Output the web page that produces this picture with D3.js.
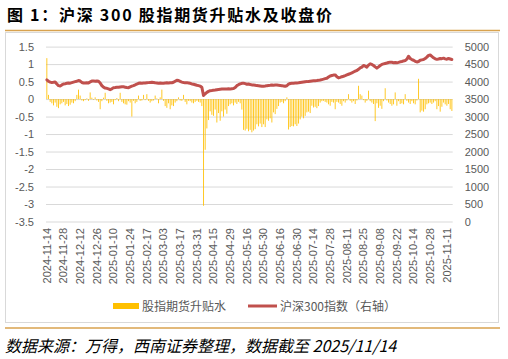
<!DOCTYPE html>
<html><head><meta charset="utf-8">
<script src="https://cdn.jsdelivr.net/npm/d3@7"></script>
<style>body{margin:0;background:#fff}svg{display:block}</style>
</head><body>
<svg id="c" width="508" height="359"></svg>
<script>
const titleText = "图 1：沪深 300 股指期货升贴水及收盘价";
const sourceText = "数据来源：万得，西南证券整理，数据截至 2025/11/14";
const seriesNames = ["股指期货升贴水", "沪深300指数（右轴）"];
const tickLabels = ["2024-11-14","2024-11-28","2024-12-12","2024-12-26","2025-01-10","2025-01-24","2025-02-17","2025-03-03","2025-03-17","2025-03-31","2025-04-15","2025-04-29","2025-05-16","2025-05-30","2025-06-16","2025-06-30","2025-07-14","2025-07-28","2025-08-11","2025-08-25","2025-09-08","2025-09-22","2025-10-14","2025-10-28","2025-11-11"];
const leftTicks = [-3.5,-3,-2.5,-2,-1.5,-1,-0.5,0,0.5,1,1.5];
const rightTicks = [0,500,1000,1500,2000,2500,3000,3500,4000,4500,5000];
const basis = [
 1.17,0.12,-0.08,-0.12,-0.18,-0.10,-0.22,-0.26,-0.15,-0.12,
 -0.08,-0.18,-0.14,-0.20,-0.16,-0.10,-0.12,-0.06,0.12,0.27,
 0.10,-0.04,-0.06,-0.03,0.02,-0.05,0.19,0.04,-0.02,0.05,
 -0.04,-0.08,-0.29,-0.06,0.04,0.18,-0.05,-0.12,-0.10,-0.08,
 -0.15,-0.03,0.03,-0.06,0.18,-0.08,-0.12,-0.15,-0.16,-0.06,
 -0.10,-0.50,-0.05,-0.12,-0.08,0.10,-0.05,-0.04,0.12,-0.03,
 0.14,-0.05,-0.10,-0.06,-0.04,0.10,0.02,-0.12,0.05,0.27,
 -0.05,-0.20,-0.25,-0.12,-0.29,-0.18,-0.20,-0.10,-0.06,0.05,
 -0.04,-0.05,0.12,-0.08,-0.15,-0.05,-0.06,-0.10,-0.12,-0.08,
 -0.05,-0.08,-0.10,-0.20,-3.05,-1.45,-0.84,-0.60,-0.35,-0.45,
 -0.48,-0.30,-0.67,-0.40,-0.62,-0.35,-0.50,-0.30,-0.42,-0.20,
 -0.15,-0.12,-0.18,-0.10,-0.14,-0.08,-0.12,-0.30,-0.88,-0.90,
 -0.85,-0.92,-0.88,-0.95,-0.90,-0.86,-0.72,-0.78,-0.70,-0.80,
 -0.72,-0.80,-0.58,-0.62,-0.55,-0.67,-0.38,-0.43,-0.28,-0.20,
 -0.10,-0.08,-0.12,-0.06,0.05,-0.87,-0.80,-0.77,-0.78,-0.72,
 -0.77,-0.70,-0.58,-0.50,-0.55,-0.48,-0.38,-0.36,-0.40,-0.19,
 -0.24,-0.22,-0.26,-0.20,-0.10,-0.06,-0.05,-0.08,-0.10,-0.15,
 -0.19,-0.08,-0.10,-0.29,-0.08,-0.10,-0.14,-0.19,-0.06,-0.10,
 -0.04,0.14,-0.05,-0.10,-0.06,-0.14,-0.04,0.38,0.14,0.10,
 -0.03,-0.10,-0.05,0.24,-0.06,-0.10,-0.14,-0.63,-0.12,-0.25,
 -0.19,-0.28,-0.06,0.31,-0.04,-0.10,-0.14,-0.19,-0.15,0.19,
 -0.19,-0.06,-0.14,-0.12,-0.15,0.14,-0.05,-0.10,-0.14,-0.06,
 -0.12,-0.15,-0.04,0.58,-0.38,-0.33,-0.36,-0.29,-0.15,-0.12,
 -0.10,-0.14,-0.10,-0.06,-0.29,-0.20,-0.36,-0.22,-0.10,-0.15,
 -0.19,-0.14,-0.29,-0.34
];
const closeIdx = [
 4047,4010,3985,3975,3980,3990,3930,3884,3875,3905,
 3932,3940,3950,3961,3955,3970,3985,3998,4010,4030,
 4015,3975,3961,3958,3965,3962,3990,4015,4020,4012,
 4018,4009,3960,3884,3840,3815,3807,3790,3769,3790,
 3826,3830,3836,3840,3848,3855,3850,3840,3830,3826,
 3850,3870,3884,3905,3930,3951,3960,3955,3962,3958,
 3965,3970,3975,3980,3972,3965,3961,3955,3958,3950,
 3955,3961,3965,3960,3968,3965,3980,4010,4038,4030,
 4005,3985,3975,3968,3970,3960,3950,3932,3925,3910,
 3895,3884,3870,3840,3600,3650,3692,3720,3740,3745,
 3755,3760,3769,3775,3780,3785,3788,3790,3788,3792,
 3790,3795,3800,3830,3884,3910,3932,3950,3955,3940,
 3925,3932,3915,3905,3900,3895,3885,3880,3872,3865,
 3868,3875,3884,3890,3895,3903,3898,3903,3900,3895,
 3890,3884,3875,3865,3880,3925,3945,3952,3955,3958,
 3961,3965,3972,3980,3988,3995,3999,4005,4012,4018,
 4022,4026,4028,4035,4045,4057,4070,4085,4096,4130,
 4160,4172,4185,4191,4140,4105,4120,4140,4153,4170,
 4191,4210,4230,4249,4275,4300,4316,4350,4390,4412,
 4460,4440,4412,4470,4508,4490,4460,4420,4383,4420,
 4460,4490,4505,4518,4530,4545,4556,4550,4540,4545,
 4537,4550,4565,4575,4590,4600,4640,4725,4660,4630,
 4610,4580,4560,4575,4610,4620,4630,4660,4700,4750,
 4760,4720,4680,4650,4635,4645,4660,4655,4670,4650,
 4640,4660,4645,4630
];

const n = basis.length;
const L = 46, R = 452.7, T = 46.6, B = 221.5;
const svg = d3.select('#c');
svg.append('rect').attr('width',508).attr('height',359).attr('fill','#fff');

svg.append('text').attr('x',7).attr('y',21)
  .attr('font-family',"'Noto Sans CJK SC', sans-serif").attr('font-weight','bold')
  .attr('font-size',16).attr('fill','#000')
  .attr('textLength',325).attr('lengthAdjust','spacing').text(titleText);
svg.append('line').attr('x1',5).attr('x2',500).attr('y1',30.5).attr('y2',30.5)
  .attr('stroke','#D8A24E').attr('stroke-width',1.5);
svg.append('rect').attr('x',5.5).attr('y',32.5).attr('width',493).attr('height',290)
  .attr('fill','none').attr('stroke','#D9D9D9').attr('stroke-width',1);

const x = d3.scaleBand().domain(d3.range(n)).range([L,R]).paddingInner(0.4).paddingOuter(0.2);
const yL = d3.scaleLinear().domain([-3.5,1.5]).range([B,T]);
const yR = d3.scaleLinear().domain([0,5000]).range([B,T]);

const gL = svg.append('g').attr('transform',`translate(${L},0)`)
  .call(d3.axisLeft(yL).tickValues(leftTicks).tickFormat(d=>String(d)).tickSize(-(R-L)).tickPadding(12));
gL.select('.domain').remove();
gL.selectAll('line').attr('stroke','#D9D9D9').attr('stroke-width',1);
gL.selectAll('text').attr('fill','#595959').attr('font-size',11).attr('font-family',"'Liberation Sans', Arial, sans-serif");

const gR = svg.append('g').attr('transform',`translate(${R},0)`)
  .call(d3.axisRight(yR).tickValues(rightTicks).tickFormat(d=>String(d)).tickSize(0).tickPadding(12));
gR.select('.domain').remove();
gR.selectAll('text').attr('fill','#595959').attr('font-size',11).attr('font-family',"'Liberation Sans', Arial, sans-serif");

const gX = svg.append('g').attr('transform',`translate(0,${B})`)
  .call(d3.axisBottom(x).tickValues(d3.range(0,n,10)).tickFormat(i=>tickLabels[i/10]).tickSize(0));
gX.select('.domain').remove();
gX.selectAll('text').attr('fill','#595959').attr('font-size',11)
  .attr('font-family',"'Liberation Sans', Arial, sans-serif")
  .attr('transform','rotate(-90)').attr('text-anchor','end')
  .attr('x',-6.5).attr('y',0).attr('dy','0.35em');

svg.append('g').selectAll('rect').data(basis).join('rect')
  .attr('x',(d,i)=>x(i)).attr('width',x.bandwidth())
  .attr('y',d=>yL(Math.max(0,d))).attr('height',d=>Math.abs(yL(d)-yL(0)))
  .attr('fill','#FFC000').attr('fill-opacity',0.85);

svg.append('path').datum(closeIdx)
  .attr('d',d3.line().x((d,i)=>x(i)+x.bandwidth()/2).y(d=>yR(d)))
  .attr('fill','none').attr('stroke','#C0504D').attr('stroke-width',3)
  .attr('stroke-linejoin','round').attr('stroke-linecap','round');

// legend
const lg = svg.append('g');
lg.append('rect').attr('x',113).attr('y',303).attr('width',26).attr('height',6).attr('fill','#FFC000');
lg.append('text').attr('x',142).attr('y',310.5).attr('font-size',12).attr('fill','#595959')
  .attr('font-family',"'Noto Sans CJK SC', sans-serif").text(seriesNames[0]);
lg.append('line').attr('x1',248).attr('x2',277).attr('y1',306).attr('y2',306)
  .attr('stroke','#C0504D').attr('stroke-width',3);
lg.append('text').attr('x',280).attr('y',310.5).attr('font-size',12).attr('fill','#595959')
  .attr('font-family',"'Noto Sans CJK SC', sans-serif").text(seriesNames[1]);

svg.append('line').attr('x1',5).attr('x2',500).attr('y1',328).attr('y2',328)
  .attr('stroke','#D8A24E').attr('stroke-width',1.5);
svg.append('text').attr('x',5).attr('y',352).attr('font-size',16).attr('font-style','italic')
  .attr('font-family',"'Noto Sans CJK SC', sans-serif").attr('fill','#000').text(sourceText);
</script>
</body></html>
